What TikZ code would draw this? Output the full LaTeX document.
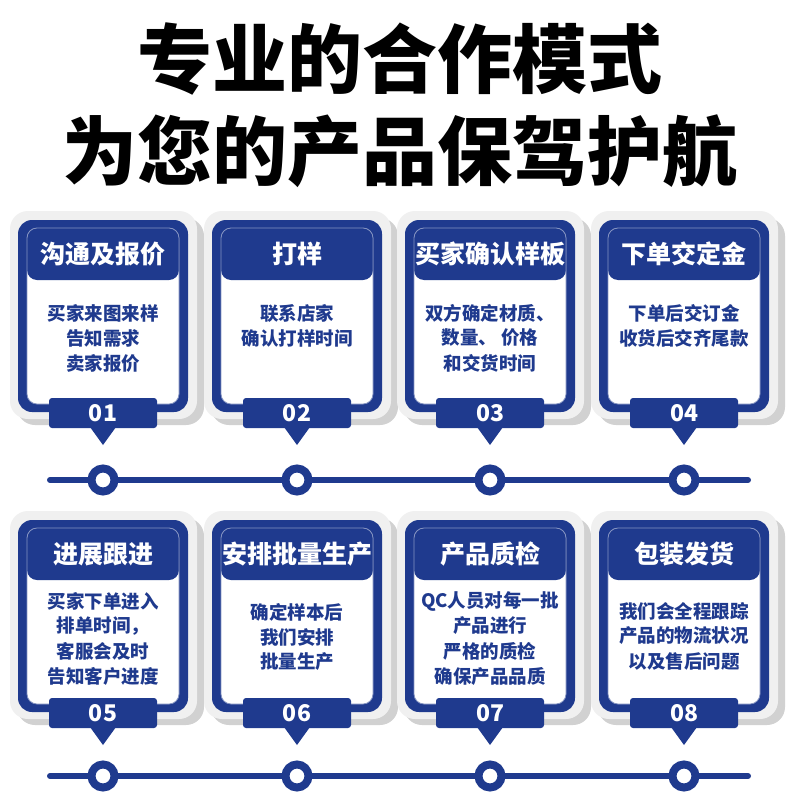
\documentclass[tikz,border=0pt]{standalone}
\usepackage{fontspec}
\setmainfont{Noto Sans CJK SC}
\definecolor{mb}{RGB}{31,58,142}
\tikzset{
  ttl/.style={font=\bfseries\fontsize{75}{75}\selectfont, text=black, inner sep=0},
  ctitle/.style={font=\bfseries\fontsize{25}{25}\selectfont, text=white, inner sep=0},
  cbody/.style={font=\bfseries\fontsize{18.5}{18.5}\selectfont, text=mb, inner sep=0},
  cnum/.style={font=\bfseries\fontsize{23}{23}\selectfont, text=white, inner sep=0},
  tline/.style={draw=mb, line width=6, line cap=round},
  dot/.style={circle, draw=mb, fill=white, line width=8, minimum size=23, inner sep=0},
}
% #1 name, #2 cx, #3 dy, #4 title, #5 number, #6 first line centre, #7 lines
\newcommand\mycard[7]{%
\begin{scope}[shift={(#2,#3)}]
  \fill[black!18, rounded corners=18] (-86,218) rectangle (101,425);
  \fill[black!6, rounded corners=18] (-93,211) rectangle (94,419);
  \fill[mb, rounded corners=14] (-85,220) rectangle (85,412);
  \fill[white, rounded corners=10] (-76,228) rectangle (76,404);
  \fill[mb, rounded corners=10] (-76,228) rectangle (76,280);
  \draw[mb!55!white, line width=0.8, rounded corners=10] (-76,228) rectangle (76,404);
  \node[ctitle] (#1t) at (0,254) {#4};
  \foreach \l [count=\i] in {#7} {
    \node[cbody] (#1b\i) at (0,{#6+25*(\i-1)}) {\l};
  }
  \fill[mb, rounded corners=3] (-54,398) rectangle (54,428);
  \fill[mb] (-13,427) -- (13,427) -- (0,445) -- cycle;
  \node[cnum] (#1n) at (0,413) {#5};
\end{scope}}
\begin{document}
\begin{tikzpicture}[x=1pt,y=-1pt]
\fill[white] (0,0) rectangle (800,800);
\useasboundingbox (0,0) rectangle (800,800);
\node[ttl] (h1) at (400,59) {专业的合作模式};
\node[ttl] (h2) at (400,151) {为您的产品保驾护航};

\mycard{a}{103}{0}{沟通及报价}{01}{313}{买家来图来样,告知需求,卖家报价}
\mycard{b}{297}{0}{打样}{02}{313}{联系店家,确认打样时间}
\mycard{c}{490}{0}{买家确认样板}{03}{313}{双方确定材质、,数量、 价格,和交货时间}
\mycard{d}{684}{0}{下单交定金}{04}{313}{下单后交订金,收货后交齐尾款}

\mycard{e}{103}{300}{进展跟进}{05}{301}{买家下单进入,排单时间，,客服会及时,告知客户进度}
\mycard{f}{297}{300}{安排批量生产}{06}{312}{确定样本后,我们安排,批量生产}
\mycard{g}{490}{300}{产品质检}{07}{301}{QC人员对每一批,产品进行,严格的质检,确保产品品质}
\mycard{h}{684}{300}{包装发货}{08}{311}{我们会全程跟踪,产品的物流状况,以及售后问题}

\coordinate (L1) at (50,480);
\coordinate (R1) at (748,480);
\draw[tline] (L1) -- (R1);
\coordinate (L2) at (50,776);
\coordinate (R2) at (748,776);
\draw[tline] (L2) -- (R2);
\foreach \x [count=\i] in {103,297,490,684} {
  \node[dot] (p\i) at (\x,480) {};
  \node[dot] (q\i) at (\x,776) {};
}
\end{tikzpicture}
\end{document}
